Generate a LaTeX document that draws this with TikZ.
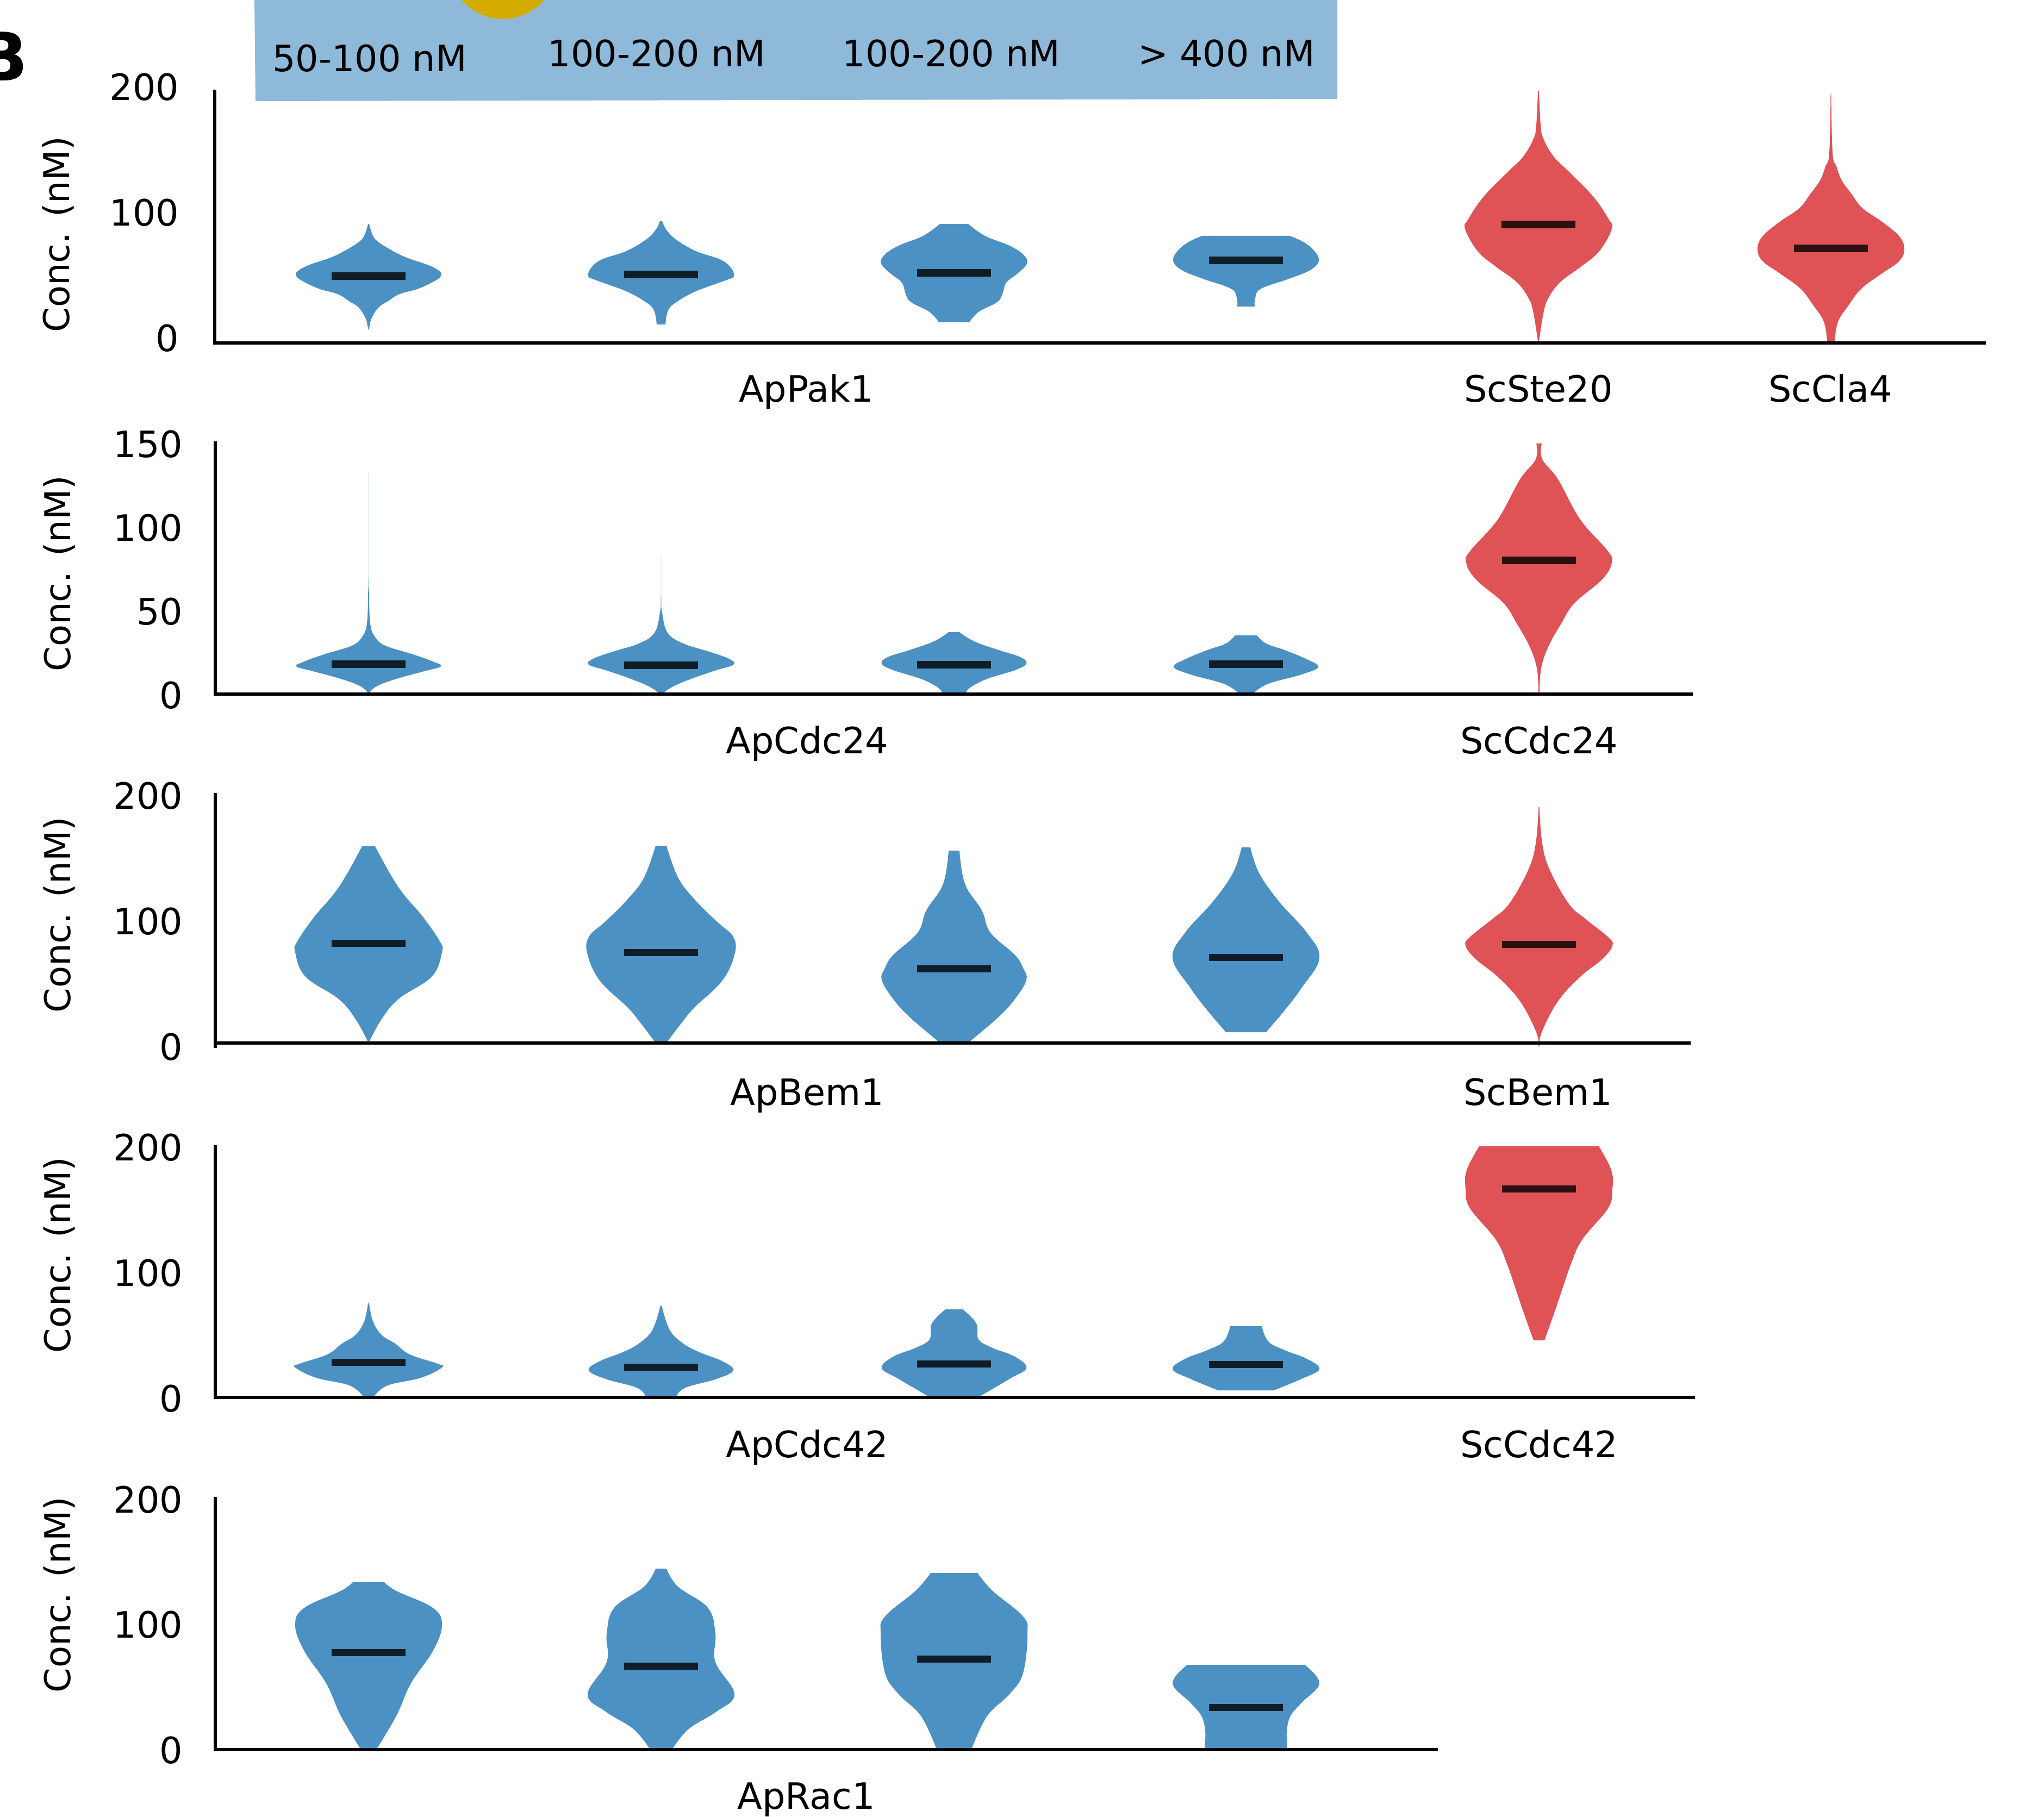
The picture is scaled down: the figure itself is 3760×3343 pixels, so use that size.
\documentclass[tikz,border=0pt]{standalone}
\usepackage{fontspec}
\setmainfont{DejaVu Sans}
\definecolor{vblue}{HTML}{4C91C3}
\definecolor{vred}{HTML}{DF5255}
\definecolor{boxblue}{HTML}{8FB9D9}
\definecolor{gold}{HTML}{D4AC00}
\tikzset{
  txt/.style={inner sep=0pt,font=\fontsize{19}{23}\selectfont},
  ticklab/.style={txt,anchor=base east},
  ylab/.style={inner sep=0pt,font=\fontsize{18.6}{23}\selectfont,anchor=base,rotate=90},
  protein/.style={txt,anchor=base},
  axisline/.style={line width=1.7pt,black},
  medbar/.style={line width=3.7pt,black,opacity=.8},
  apviolin/.style={fill=vblue},
  scviolin/.style={fill=vred}
}
% #1 centre, #2 style, #3 median, #4 profile y/half width
\newcommand{\violin}[4]{
  \gdef\vrgt{}\gdef\vlft{}
  \foreach \yy/\hw in {#4}{\xdef\vrgt{\vrgt (#1+\hw,\yy)}\xdef\vlft{(#1-\hw,\yy) \vlft}}
  \edef\vpath{\noexpand\path[#2] plot[smooth,tension=.65] coordinates {\vrgt} -- plot[smooth,tension=.65] coordinates {\vlft} -- cycle;}
  \vpath
  \draw[medbar] (#1-68,#3) -- (#1+68,#3);
}
\begin{document}
\begin{tikzpicture}[x=0.01cm,y=-0.01cm]
\useasboundingbox (0,0) rectangle (3760,3343);
\clip (0,0) rectangle (3760,3343);

% top strip
\fill[boxblue] (468,-5) -- (2460,-5) -- (2460,182) -- (470,186) -- cycle;
\fill[gold] (925,-65) circle (100);
\node[protein] (dose1) at (680,132) {50-100 nM};
\node[protein] (dose2) at (1208,123) {100-200 nM};
\node[protein] (dose3) at (1750,123) {100-200 nM};
\node[protein] (dose4) at (2256,123) {> 400 nM};
\node[inner sep=0pt,anchor=base east,font=\fontsize{35}{40}\selectfont\bfseries] (panelB) at (52,149) {B};

% Pak1
\violin{678}{apviolin}{508}{412/1,434/8,446/19,462/45,474/70,487/108,497/128,505/134,515/125,531/92,541/57,554/36,566/18,587/5,606/1}
\violin{1216}{apviolin}{505}{407/2,423/10,441/28,462/64,477/108,492/128,508/134,515/121,536/64,556/28,571/13,597/8}
\violin{1755}{apviolin}{502}{412/26,434/57,452/102,469/128,485/134,503/117,520/96,541/89,556/79,574/45,593/28}
\violin{2292}{apviolin}{479}{434/81,446/107,462/126,480/134,497/118,513/79,531/28,548/17,564/16}
\violin{2830}{scviolin}{413}{168/1,230/4,255/9,288/28,316/56,362/101,403/129,421/135,462/112,490/79,520/39,551/17,577/9,628/1}
\violin{3368}{scviolin}{457}{172/.5,281/3,306/10,332/20,357/38,383/58,408/94,434/125,457/135,480/126,503/94,531/56,561/33,592/13,628/7}
\draw[axisline] (395,165) -- (395,631) -- (3653,631);
\node[ticklab] (pak200) at (330,185) {200};
\node[ticklab] (pak100) at (330,416) {100};
\node[ticklab] (pak0) at (330,647) {0};
\node[ylab] (pakY) at (127,431) {Conc. (nM)};
\node[protein] (appak) at (1483,740) {ApPak1};
\node[protein] (scste) at (2830,740) {ScSte20};
\node[protein] (sccla) at (3367,740) {ScCla4};

% Cdc24
\violin{678}{apviolin}{1222}{869/.15,1049/.2,1090/.8,1147/3,1172/12,1188/31,1204/82,1217/118,1226/133,1235/102,1249/51,1262/16,1275/1}
\violin{1216}{apviolin}{1224}{1021/.1,1100/.3,1127/2,1164/12,1184/41,1200/92,1213/127,1223/133,1233/102,1247/61,1262/24,1275/4}
\violin{1755}{apviolin}{1223}{1163/10,1180/37,1196/82,1209/122,1221/133,1233/112,1249/61,1264/31,1275/21}
\violin{2292}{apviolin}{1222}{1169/20,1184/37,1196/71,1213/112,1227/133,1241/102,1258/41,1275/14}
\violin{2831}{scviolin}{1031}{816/5,845/6,882/35,956/76,1013/126,1035/134,1066/116,1110/65,1147/41,1188/18,1229/4,1275/1}
\draw[axisline] (396,812) -- (396,1277) -- (3114,1277);
\node[ticklab] (gef150) at (337,841) {150};
\node[ticklab] (gef100) at (337,995) {100};
\node[ticklab] (gef50) at (337,1149) {50};
\node[ticklab] (gef0) at (337,1303) {0};
\node[ylab] (gefY) at (129,1055) {Conc. (nM)};
\node[protein] (apgef) at (1485,1386) {ApCdc24};
\node[protein] (scgef) at (2831,1386) {ScCdc24};

% Bem1
\violin{678}{apviolin}{1735}{1557/12,1610/41,1646/65,1687/100,1732/131,1752/135,1797/116,1838/55,1875/24,1915/2}
\violin{1216}{apviolin}{1752}{1556/10,1614/31,1654/61,1695/102,1724/133,1757/135,1805/112,1854/61,1883/37,1916/12}
\violin{1755}{apviolin}{1782}{1565/10,1626/20,1675/51,1716/67,1757/112,1781/127,1803/133,1838/112,1871/82,1916/29}
\violin{2292}{apviolin}{1761}{1559/8,1606/24,1659/61,1716/112,1763/135,1818/102,1859/71,1899/37}
\violin{2831}{scviolin}{1737}{1485/.7,1552/6,1601/20,1663/55,1691/86,1724/127,1740/135,1765/116,1797/76,1842/35,1899/5,1925/1}
\draw[axisline] (396,1459) -- (396,1928);
\draw[axisline] (396,1919) -- (3110,1919);
\node[ticklab] (bem200) at (337,1488) {200};
\node[ticklab] (bem100) at (337,1719) {100};
\node[ticklab] (bem0) at (337,1950) {0};
\node[ylab] (bemY) at (129,1683) {Conc. (nM)};
\node[protein] (apbem) at (1485,2033) {ApBem1};
\node[protein] (scbem) at (2829,2033) {ScBem1};

% Cdc42
\violin{678}{apviolin}{2506}{2398/1,2431/8,2456/24,2472/49,2492/76,2509/127,2516/135,2535/96,2549/35,2569/10}
\violin{1216}{apviolin}{2515}{2402/1,2447/16,2472/41,2488/71,2504/112,2521/133,2537/102,2553/45,2568/29}
\violin{1755}{apviolin}{2509}{2409/16,2435/41,2464/45,2480/71,2496/112,2517/133,2537/102,2568/49}
\violin{2292}{apviolin}{2510}{2440/29,2468/41,2484/71,2500/112,2519/135,2537/102,2558/51}
\violin{2831}{scviolin}{2187}{2109/110,2153/133,2188/135,2223/127,2280/80,2325/59,2407/31,2466/10}
\draw[axisline] (396,2107) -- (396,2571) -- (3118,2571);
\node[ticklab] (cdc200) at (337,2135) {200};
\node[ticklab] (cdc100) at (337,2366) {100};
\node[ticklab] (cdc0) at (337,2597) {0};
\node[ylab] (cdcY) at (129,2309) {Conc. (nM)};
\node[protein] (apcdc) at (1485,2681) {ApCdc42};
\node[protein] (sccdc) at (2831,2681) {ScCdc42};

% Rac1
\violin{678}{apviolin}{3040}{2911/29,2927/51,2958/118,2990/135,3038/118,3097/78,3157/51,3216/16}
\violin{1216}{apviolin}{3065}{2886/10,2919/31,2958/86,3006/100,3058/100,3117/135,3149/102,3181/51,3216/22}
\violin{1755}{apviolin}{3052}{2894/43,2927/71,2974/127,3006/135,3078/127,3117/102,3157/61,3216/33}
\violin{2292}{apviolin}{3141}{3063/108,3097/135,3133/102,3157/82,3185/75,3216/76}
\draw[axisline] (396,2754) -- (396,3219) -- (2645,3219);
\node[ticklab] (rac200) at (337,2783) {200};
\node[ticklab] (rac100) at (337,3013) {100};
\node[ticklab] (rac0) at (337,3244) {0};
\node[ylab] (racY) at (129,2934) {Conc. (nM)};
\node[protein] (aprac) at (1483,3328) {ApRac1};
\end{tikzpicture}
\end{document}
